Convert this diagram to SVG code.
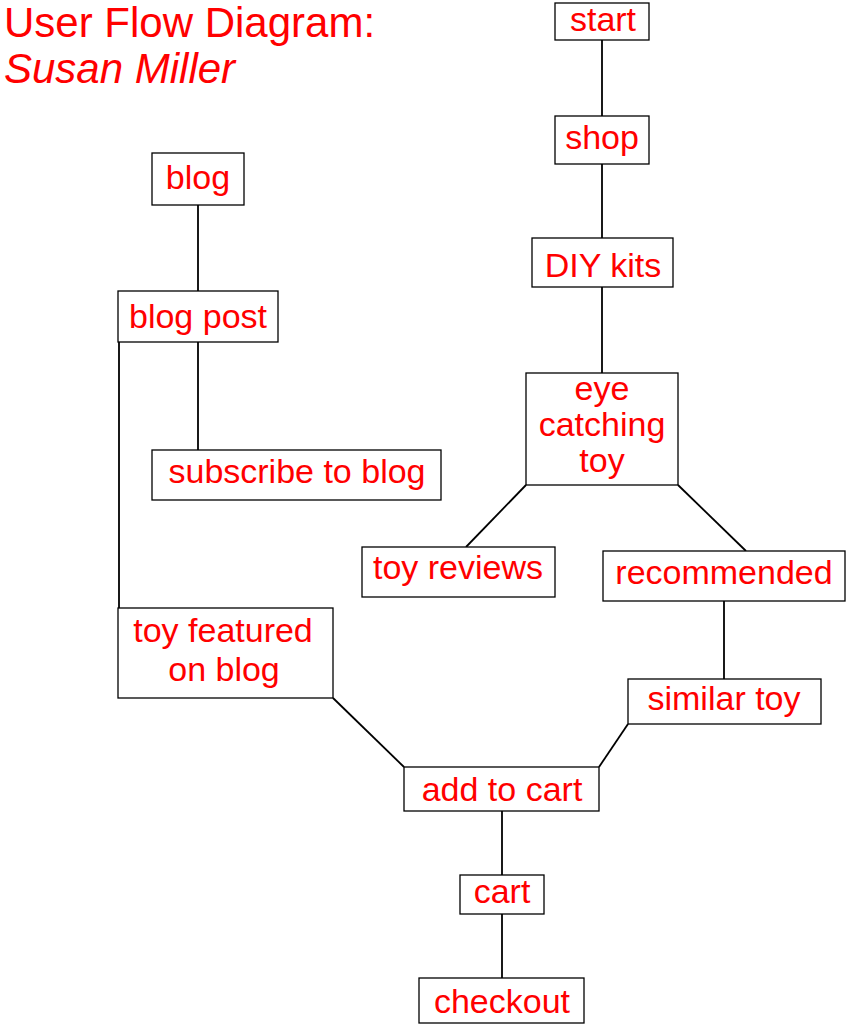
<svg xmlns="http://www.w3.org/2000/svg" width="847" height="1025" viewBox="0 0 847 1025">
<style>
.box{fill:#fff;stroke:#000;stroke-width:1.3}
.t{font-family:"Liberation Sans",Arial,sans-serif;font-size:34px;fill:#ff0000;text-anchor:middle}
.title{font-family:"Liberation Sans",Arial,sans-serif;font-size:42px;fill:#ff0000}
.c{stroke:#000;stroke-width:1.8;fill:none}
</style>
<rect width="847" height="1025" fill="#fff"/>
<g id="title">
<text class="title" x="4" y="37">User Flow Diagram:</text>
<text class="title" x="4" y="83" font-style="italic">Susan Miller</text>
</g>
<g id="connectors">
<line class="c" x1="602" y1="40" x2="602" y2="116"/>
<line class="c" x1="602" y1="164" x2="602" y2="238"/>
<line class="c" x1="602" y1="287" x2="602" y2="373"/>
<line class="c" x1="526" y1="485" x2="466" y2="547"/>
<line class="c" x1="678" y1="485" x2="746" y2="551"/>
<line class="c" x1="724" y1="601" x2="724" y2="679"/>
<line class="c" x1="628" y1="724" x2="599" y2="767"/>
<line class="c" x1="198" y1="205" x2="198" y2="291"/>
<line class="c" x1="198" y1="342" x2="198" y2="450"/>
<line class="c" x1="119" y1="342" x2="119" y2="608"/>
<line class="c" x1="333" y1="698" x2="404" y2="767"/>
<line class="c" x1="502" y1="811" x2="502" y2="875"/>
<line class="c" x1="502" y1="914" x2="502" y2="978"/>
</g>
<g id="start"><rect class="box" x="555" y="3" width="94" height="37"/><text class="t" x="603" y="31">start</text></g>
<g id="shop"><rect class="box" x="555" y="116" width="94" height="48"/><text class="t" x="602" y="149">shop</text></g>
<g id="diy-kits"><rect class="box" x="532" y="238" width="141" height="49"/><text class="t" x="603" y="277">DIY kits</text></g>
<g id="eye-catching-toy"><rect class="box" x="526" y="373" width="152" height="112"/><text class="t" x="602" y="400" font-size="30">eye</text><text class="t" x="602" y="436" font-size="30">catching</text><text class="t" x="602" y="472" font-size="30">toy</text></g>
<g id="toy-reviews"><rect class="box" x="362" y="547" width="193" height="50"/><text class="t" x="458" y="579">toy reviews</text></g>
<g id="recommended"><rect class="box" x="603" y="551" width="242" height="50"/><text class="t" x="724" y="584">recommended</text></g>
<g id="similar-toy"><rect class="box" x="628" y="679" width="193" height="45"/><text class="t" x="724" y="710">similar toy</text></g>
<g id="blog"><rect class="box" x="152" y="153" width="92" height="52"/><text class="t" x="198" y="189">blog</text></g>
<g id="blog-post"><rect class="box" x="118" y="291" width="160" height="51"/><text class="t" x="198" y="328">blog post</text></g>
<g id="subscribe-to-blog"><rect class="box" x="152" y="450" width="289" height="50"/><text class="t" x="297" y="483">subscribe to blog</text></g>
<g id="toy-featured-on-blog"><rect class="box" x="118" y="608" width="215" height="90"/><text class="t" x="223" y="642">toy featured</text><text class="t" x="224" y="681">on blog</text></g>
<g id="add-to-cart"><rect class="box" x="404" y="767" width="195" height="44"/><text class="t" x="502" y="801">add to cart</text></g>
<g id="cart"><rect class="box" x="460" y="875" width="84" height="39"/><text class="t" x="502" y="903">cart</text></g>
<g id="checkout"><rect class="box" x="419" y="978" width="165" height="45"/><text class="t" x="502" y="1013">checkout</text></g>
</svg>
